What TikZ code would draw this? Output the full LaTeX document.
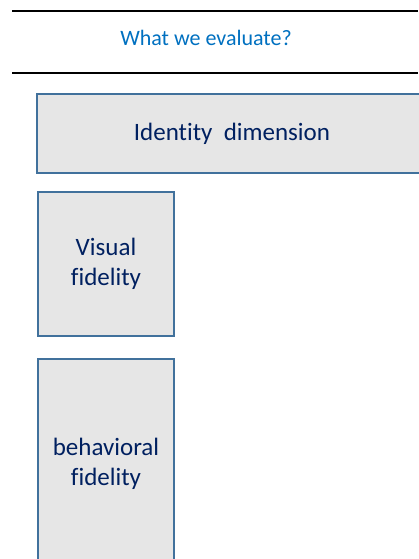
\documentclass[tikz,border=0pt]{standalone}
\usepackage{fontspec}
\setmainfont{Carlito}[Ligatures=NoCommon]
\usetikzlibrary{positioning}
\definecolor{titleblue}{RGB}{0,112,192}
\definecolor{boxgray}{RGB}{230,230,230}
\definecolor{boxedge}{RGB}{65,113,156}
\definecolor{navytext}{RGB}{0,32,96}
\tikzstyle{dimbox} = [rectangle, draw=boxedge, line width=1.3pt, fill=boxgray, text=navytext, align=center, font=\fontsize{25}{30}\selectfont, inner sep=0pt]
\tikzstyle{rule} = [line width=2.5pt, black]

\begin{document}
\begin{tikzpicture}[x=1pt, y=-1pt]
	\useasboundingbox (0,0) rectangle (418,559);
	% Header
	\draw[rule] (12,11) -- (418,11);
	\draw[rule] (12,73) -- (418,73);
	\node[text=titleblue, font=\fontsize{22}{26}\selectfont] (title) at (206,38) {What we evaluate?};

	% Boxes
	\node[dimbox, minimum width=390pt, minimum height=79pt] (identity) at (232,133.5) {Identity\ \ dimension};
	\node[dimbox, minimum width=136pt, minimum height=144pt] (visual) at (106,264) {Visual\\fidelity};
	\node[dimbox, minimum width=136pt, minimum height=210pt] (behavioral) at (106,464) {behavioral\\fidelity};
\end{tikzpicture}
\end{document}
